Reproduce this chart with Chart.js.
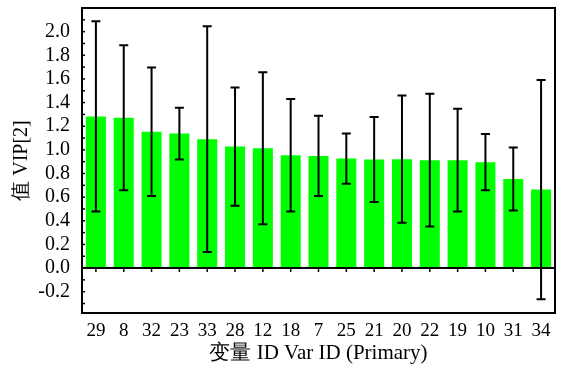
<!DOCTYPE html>
<html>
<head>
<meta charset="utf-8">
<script src="https://cdn.jsdelivr.net/npm/chart.js@4.4.1/dist/chart.umd.min.js"></script>
<style>
  html, body { margin: 0; padding: 0; background: #fff; }
</style>
</head>
<body>
<canvas id="myChart" width="561" height="366"></canvas>
<script>
// variable IDs along the x axis
const varIds = ['29', '8', '32', '23', '33', '28', '12', '18', '7', '25', '21', '20', '22', '19', '10', '31', '34'];
// VIP[2] values
const vipValues = [1.283, 1.271, 1.153, 1.138, 1.090, 1.028, 1.014, 0.955, 0.949, 0.926, 0.918, 0.921, 0.913, 0.913, 0.896, 0.754, 0.664];
// half-width of the error bars
const vipErrors = [0.805, 0.613, 0.543, 0.219, 0.955, 0.500, 0.643, 0.476, 0.339, 0.213, 0.359, 0.538, 0.562, 0.434, 0.238, 0.266, 0.927];
// y axis tick labels
const yTicks = [-0.2, 0.0, 0.2, 0.4, 0.6, 0.8, 1.0, 1.2, 1.4, 1.6, 1.8, 2.0];
const yMinorTicks = [-0.3, -0.2, -0.1, 0.0, 0.1, 0.2, 0.3, 0.4, 0.5, 0.6, 0.7, 0.8, 0.9, 1.0, 1.1, 1.2, 1.3, 1.4, 1.5, 1.6, 1.7, 1.8, 1.9, 2.0, 2.1];

const serif = '"Liberation Serif", "Times New Roman", serif';

// error bars, frame, zero line and tick marks
const extras = {
  id: 'extras',
  afterDatasetsDraw(chart) {
    const ctx = chart.ctx;
    const area = chart.chartArea;
    const y = chart.scales.y;
    const meta = chart.getDatasetMeta(0);
    ctx.save();
    ctx.strokeStyle = '#000';

    // zero line
    const y0 = y.getPixelForValue(0);
    ctx.lineWidth = 2;
    ctx.beginPath();
    ctx.moveTo(area.left, y0);
    ctx.lineTo(area.right, y0);
    ctx.stroke();

    // x tick marks under zero line
    ctx.lineWidth = 1.5;
    meta.data.forEach(bar => {
      ctx.beginPath();
      ctx.moveTo(bar.x, y0);
      ctx.lineTo(bar.x, y0 + 4);
      ctx.stroke();
    });

    // y tick marks (inward)
    yMinorTicks.forEach(v => {
      const py = y.getPixelForValue(v);
      ctx.beginPath();
      ctx.moveTo(area.left, py);
      ctx.lineTo(area.left + 3, py);
      ctx.stroke();
    });

    // error bars
    ctx.lineWidth = 2;
    meta.data.forEach((bar, i) => {
      const hi = y.getPixelForValue(vipValues[i] + vipErrors[i]);
      const lo = y.getPixelForValue(vipValues[i] - vipErrors[i]);
      ctx.beginPath();
      ctx.moveTo(bar.x, hi);
      ctx.lineTo(bar.x, lo);
      ctx.moveTo(bar.x - 4.5, hi);
      ctx.lineTo(bar.x + 4.5, hi);
      ctx.moveTo(bar.x - 4.5, lo);
      ctx.lineTo(bar.x + 4.5, lo);
      ctx.stroke();
    });

    // frame
    ctx.lineWidth = 2;
    ctx.strokeRect(area.left, area.top, area.right - area.left, area.bottom - area.top);
    ctx.restore();
  }
};

const ctx = document.getElementById('myChart').getContext('2d');
new Chart(ctx, {
  type: 'bar',
  data: {
    labels: varIds,
    datasets: [{
      data: vipValues,
      backgroundColor: '#00ff00',
      borderWidth: 0,
      barPercentage: 0.72,
      categoryPercentage: 1.0
    }]
  },
  options: {
    responsive: false,
    animation: false,
    devicePixelRatio: 1,
    layout: { padding: { top: 8, right: 6, left: 0, bottom: 0 } },
    plugins: {
      legend: { display: false },
      tooltip: { enabled: false }
    },
    scales: {
      x: {
        grid: { display: false, drawTicks: false },
        border: { display: false },
        ticks: {
          color: '#000',
          font: { family: serif, size: 19 },
          padding: 7,
          maxRotation: 0,
          autoSkip: false
        },
        title: {
          display: true,
          text: '变量 ID Var ID (Primary)',
          color: '#000',
          font: { family: serif, size: 21 },
          padding: { top: 0, bottom: 0 }
        },
        afterFit(scale) {
          scale.height = 53;
          scale.paddingLeft = 0;
          scale.paddingRight = 0;
        }
      },
      y: {
        min: -0.38,
        max: 2.2,
        grid: { display: false, drawTicks: false },
        border: { display: false },
        ticks: {
          color: '#000',
          font: { family: serif, size: 20 },
          padding: 12,
          autoSkip: false,
          callback: v => v.toFixed(1)
        },
        afterBuildTicks(scale) {
          scale.ticks = yTicks.map(v => ({ value: v }));
        },
        title: {
          display: true,
          text: '值 VIP[2]',
          color: '#000',
          font: { family: serif, size: 20 },
          padding: { top: 10, bottom: 0 }
        },
        afterFit(scale) {
          scale.width = 82;
          scale.paddingTop = 0;
          scale.paddingBottom = 0;
        }
      }
    }
  },
  plugins: [extras]
});
</script>
</body>
</html>
